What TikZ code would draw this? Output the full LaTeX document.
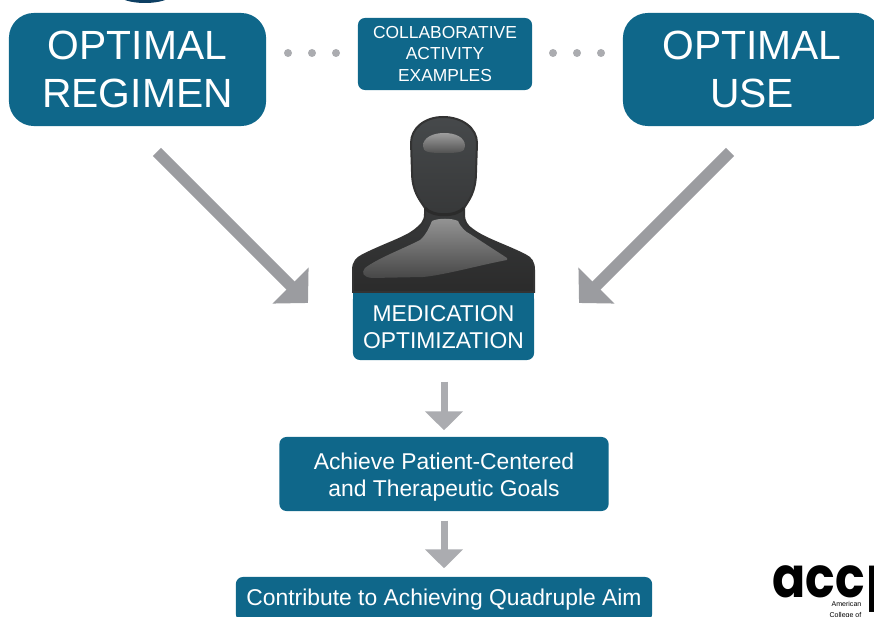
\documentclass[tikz,border=0pt]{standalone}
\usepackage{fontspec}
\setmainfont{Liberation Sans}
\newfontfamily\logofont{Poppins}
\usetikzlibrary{arrows.meta}
\definecolor{boxblue}{HTML}{0F678A}
\definecolor{bigarrowgray}{HTML}{9B9CA0}
\definecolor{arrowgray}{HTML}{ABACB0}
\definecolor{persontop}{HTML}{46494B}
\definecolor{personlow}{HTML}{2B2B2B}
\newcommand\lowerline[1]{\rule{0pt}{#1}}
\tikzset{
	bluebox/.style={fill=boxblue, text=white, align=center, inner sep=0pt},
	bigbox/.style={bluebox, rounded corners=0.25cm, minimum height=1.13cm, font=\fontsize{11.6}{13.4}\selectfont},
	smallbox/.style={bluebox, rounded corners=0.07cm, font=\fontsize{6.5}{7.7}\selectfont},
	bigarrow/.style={line width=0.115cm, bigarrowgray, -{Triangle[width=0.495cm, length=0.247cm]}},
	downarrow/.style={line width=0.07cm, arrowgray, -{Triangle[width=0.37cm, length=0.19cm]}},
	dotmark/.style={fill=arrowgray, draw=none},
}
\begin{document}
\begin{tikzpicture}[x=0.01cm, y=-0.01cm]
	%%%%% START %%%%%
	\useasboundingbox (0, 0) rectangle (874, 616);
	
	\fill[fill={rgb,255:red,13;green,63;blue,99}] (145, -10) ellipse (32 and 13);
	
	\node[bigbox, minimum width=2.57cm] (optreg) at (137.5, 69.5) {OPTIMAL\\REGIMEN};
	\node[bigbox, minimum width=2.58cm] (optuse) at (752, 69.5) {OPTIMAL\\USE};
	\node[smallbox, minimum width=1.74cm, minimum height=0.72cm, font=\fontsize{4.95}{6}\selectfont] (collab) at (445, 54) {COLLABORATIVE\\ACTIVITY\\EXAMPLES};
	
	\foreach \dotx in {288, 312, 336, 553, 577, 601}
		\fill[dotmark] (\dotx, 53) circle (4);
	
	\coordinate (regstart) at (157, 152);
	\coordinate (regend) at (308, 303);
	\coordinate (usestart) at (730, 152);
	\coordinate (useend) at (579, 303);
	\draw[bigarrow] (regstart) -- (regend);
	\draw[bigarrow] (usestart) -- (useend);
	
	\fill[boxblue] (353, 292) rectangle (534, 310);
	\node[smallbox, minimum width=1.81cm, minimum height=0.68cm] (medbox) at (443.5, 326) {\lowerline{5.2pt}MEDICATION\\OPTIMIZATION};
	
	% person
	\shade[top color=persontop, bottom color=personlow, draw=black!80, line width=0.02cm]
		(353, 292) -- (353, 270) .. controls (353, 262) and (357, 258) .. (363, 255)
		.. controls (385, 244) and (405, 238) .. (415, 230)
		.. controls (421, 225) and (425, 222) .. (425, 214)
		-- (425, 208) .. controls (420, 200) and (412, 192) .. (412, 172)
		-- (411, 143) .. controls (411, 128) and (425, 117) .. (443, 117)
		.. controls (462, 117) and (477, 128) .. (477, 143)
		-- (476, 172) .. controls (476, 192) and (469, 200) .. (464, 208)
		-- (464, 214) .. controls (464, 222) and (467, 226) .. (473, 230)
		.. controls (485, 239) and (505, 245) .. (525, 255)
		.. controls (531, 258) and (534, 262) .. (534, 270)
		-- (534, 292) -- cycle;
	\draw[personlow, line width=0.03cm] (425, 208) .. controls (432, 217) and (456, 217) .. (464, 208);
	\shade[top color=black!42, bottom color=black!72]
		(432, 221) .. controls (438, 218) and (452, 218) .. (458, 221)
		.. controls (461, 228) and (466, 232) .. (470, 234)
		-- (507, 258) -- (507, 260) .. controls (480, 265) and (445, 275) .. (423, 277)
		-- (372, 278) .. controls (363, 277) and (361, 273) .. (365, 268)
		.. controls (378, 258) and (405, 248) .. (420, 240)
		.. controls (426, 235) and (429, 228) .. (432, 221) -- cycle;
	\shade[top color=black!38, bottom color=black!68]
		(423, 146) .. controls (423, 137) and (434, 133) .. (444, 133)
		.. controls (455, 133) and (465, 137) .. (465, 146)
		.. controls (465, 152) and (460, 153) .. (444, 153)
		.. controls (428, 153) and (423, 152) .. (423, 146) -- cycle;
	
	\node[smallbox, minimum width=3.29cm, minimum height=0.74cm] (goalbox) at (444, 474) {\lowerline{6.7pt}Achieve Patient-Centered\\and Therapeutic Goals};
	\node[smallbox, minimum width=4.16cm, minimum height=0.44cm] (aimbox) at (444, 599) {\lowerline{5.3pt}Contribute to Achieving Quadruple Aim};
	
	\draw[downarrow, shorten <=0.21cm, shorten >=0.06cm] (goalbox.north |- medbox.south) -- (goalbox.north);
	\draw[downarrow, shorten <=0.09cm, shorten >=0.08cm] (goalbox.south) -- (aimbox.north);
	
	% logo
	\node[anchor=base west, inner sep=0pt, font=\logofont\bfseries\fontsize{16}{16}\selectfont] (logoname) at (772, 597) {\scalebox{0.87}[1]{acc}};
	\node[anchor=base west, inner sep=0pt, font=\logofont\bfseries\fontsize{16}{16}\selectfont] (logocut) at (866, 597) {\scalebox{0.87}[1]{p}};
	\node[anchor=north east, inner sep=0pt, align=right, font=\fontsize{2}{2.9}\selectfont] (logotext) at (862, 601) {American\\College of};
	
	%%%%% END %%%%%
\end{tikzpicture}
\end{document}
